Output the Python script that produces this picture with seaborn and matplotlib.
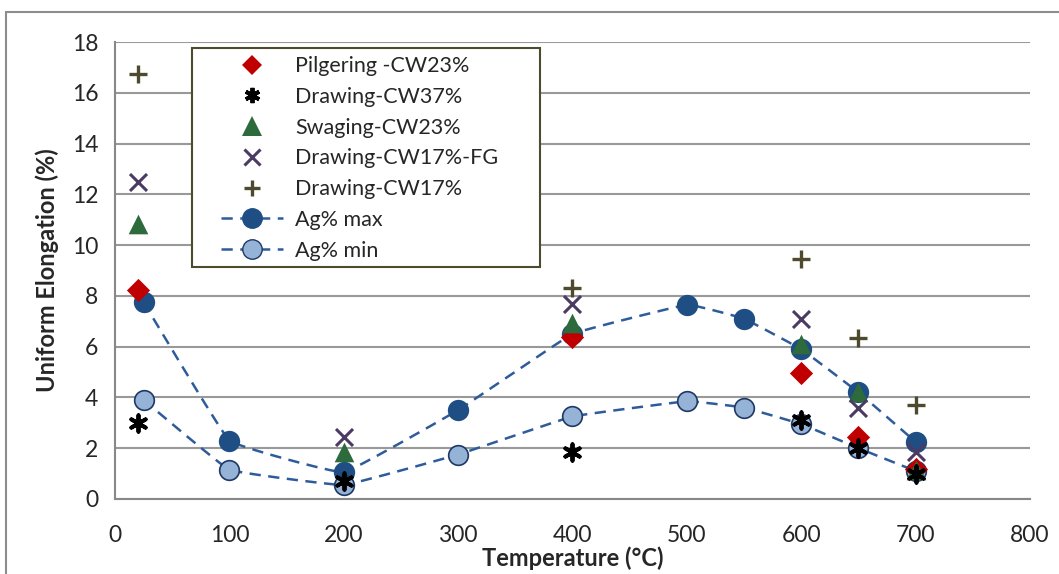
import numpy as np
import pandas as pd
import matplotlib
matplotlib.use("Agg")
import matplotlib.pyplot as plt
import seaborn as sns
from matplotlib.lines import Line2D
from matplotlib.patches import Rectangle

# Data
temp_ag = [25, 100, 200, 300, 400, 500, 550, 600, 650, 700]
ag_max = [7.75, 2.3, 1.05, 3.5, 6.5, 7.65, 7.1, 5.9, 4.2, 2.25]
ag_min = [3.9, 1.15, 0.55, 1.75, 3.25, 3.85, 3.6, 2.95, 2.0, 1.1]

temp_pilg = [20, 400, 600, 650, 700]
pilgering = [8.25, 6.4, 4.97, 2.45, 1.2]

temp_cw37 = [20, 200, 400, 600, 650, 700]
drawing_cw37 = [3.0, 0.7, 1.85, 3.1, 2.0, 1.0]

temp_swag = [20, 200, 400, 600, 650, 700]
swaging = [10.85, 1.85, 6.95, 6.1, 4.2, 1.15]

temp_fg = [20, 200, 400, 600, 650, 700]
drawing_fg = [12.5, 2.45, 7.7, 7.1, 3.6, 1.85]

temp_cw17 = [20, 400, 600, 650, 700]
drawing_cw17 = [16.75, 8.3, 9.45, 6.35, 3.7]


def smooth(xs, ys, k=0.035, n=20):
    # Bezier curve through the points, a mild version of Excel's smoothed line
    p = np.column_stack([xs, ys]).astype(float)
    p = np.vstack([p[0], p, p[-1]])
    out = []
    t = np.linspace(0, 1, n, endpoint=False)
    for i in range(1, len(p) - 2):
        p0, p1, p2, p3 = p[i - 1], p[i], p[i + 1], p[i + 2]
        b1 = p1 + (p2 - p0) * k
        b2 = p2 - (p3 - p1) * k
        seg = ((1 - t) ** 3)[:, None] * p1 + (3 * (1 - t) ** 2 * t)[:, None] * b1 \
            + (3 * (1 - t) * t ** 2)[:, None] * b2 + (t ** 3)[:, None] * p2
        out.append(seg)
    out.append(p[-2][None, :])
    c = np.vstack(out)
    return c[:, 0], c[:, 1]


sns.set_style("white")
plt.rcParams["font.family"] = ["Lato", "DejaVu Sans"]

fig = plt.figure(figsize=(10.59, 5.74), dpi=100)
ax = fig.add_axes([0.1086, 0.1307, 0.8640, 0.7961])

dark_blue = "#1F4E85"
line_blue = "#2E5C9A"
light_blue = "#95B3D7"
edge_blue = "#1F3864"
dash = (0, (4.5, 3))

# Ag curves (behind the other markers)
for ys, face, edge in [(ag_max, dark_blue, dark_blue), (ag_min, light_blue, edge_blue)]:
    cx, cy = smooth(temp_ag, ys)
    sns.lineplot(x=cx, y=cy, ax=ax, color=line_blue, lw=1.8, sort=False,
                 linestyle=dash, zorder=2)
    sns.scatterplot(x=temp_ag, y=ys, ax=ax, color=face, edgecolor=edge,
                    linewidth=1.2, s=200, marker="o", zorder=3)

sns.scatterplot(x=temp_pilg, y=pilgering, ax=ax, color="#C00000", marker="D",
                s=140, linewidth=0, zorder=4)
sns.scatterplot(x=temp_swag, y=swaging, ax=ax, color="#2D6A3C", marker="^",
                s=200, linewidth=0, zorder=4)
sns.scatterplot(x=temp_fg, y=drawing_fg, ax=ax, color="#4B3B63", marker="x",
                s=150, linewidth=2.2, zorder=5)
sns.scatterplot(x=temp_cw17, y=drawing_cw17, ax=ax, color="#4E4A2E", marker="+",
                s=160, linewidth=2.4, zorder=5)
sns.scatterplot(x=temp_cw37, y=drawing_cw37, ax=ax, color="black", marker=(6, 2, 0),
                s=140, linewidth=2.8, zorder=6)

ax.set_xlim(0, 800)
ax.set_ylim(0, 18)
ax.set_xticks(range(0, 801, 100))
ax.set_yticks(range(0, 19, 2))
ax.yaxis.grid(True, color="#999999", lw=1.5)
ax.xaxis.grid(False)
ax.set_axisbelow(True)
for s in ["top", "right"]:
    ax.spines[s].set_visible(False)
for s in ["left", "bottom"]:
    ax.spines[s].set_color("#888888")
    ax.spines[s].set_linewidth(1.5)
ax.tick_params(axis="both", direction="out", length=6, width=1.5, color="#888888",
               labelsize=16.5, pad=6)
ax.tick_params(axis="x", pad=13)

ax.set_xlabel("Temperature (°C)", fontsize=17, fontweight="bold", labelpad=0)
ax.set_ylabel("Uniform Elongation (%)", fontsize=17, fontweight="bold", labelpad=9)

handles = [
    Line2D([], [], ls="none", marker="D", color="#C00000", ms=10, mew=0),
    Line2D([], [], ls="none", marker=(6, 2, 0), color="black", ms=11, mew=2.8),
    Line2D([], [], ls="none", marker="^", color="#2D6A3C", ms=14, mew=0),
    Line2D([], [], ls="none", marker="x", color="#4B3B63", ms=11, mew=2.2),
    Line2D([], [], ls="none", marker="+", color="#4E4A2E", ms=12, mew=2.4),
    Line2D([], [], ls=dash, lw=1.8, color=line_blue, marker="o",
           mfc=dark_blue, mec=dark_blue, ms=14),
    Line2D([], [], ls=dash, lw=1.8, color=line_blue, marker="o",
           mfc=light_blue, mec=edge_blue, ms=14),
]
labels = ["Pilgering -CW23%", "Drawing-CW37%", "Swaging-CW23%",
          "Drawing-CW17%-FG", "Drawing-CW17%", "Ag% max", "Ag% min"]

# legend box drawn separately (Excel leaves blank space on its right)
ax.add_patch(Rectangle((0.0842, 0.5077), 0.3803, 0.4792, transform=ax.transAxes,
                       facecolor="white", edgecolor="#4E4A2E", lw=1.5, zorder=7))
leg = ax.legend(handles, labels, loc="upper left", bbox_to_anchor=(0.1158, 0.969),
                fontsize=15.5, frameon=False, borderpad=0,
                labelspacing=0.5, handlelength=2.9, handletextpad=0.55,
                borderaxespad=0)
leg.set_zorder(8)

# outer chart-area border
fig.patches.append(Rectangle((6 / 1059, -0.1), 1.2, 1.1 - 12 / 574,
                             transform=fig.transFigure, fill=False,
                             edgecolor="#8C8C8C", lw=1.5))

fig.savefig("out.png", dpi=100)
